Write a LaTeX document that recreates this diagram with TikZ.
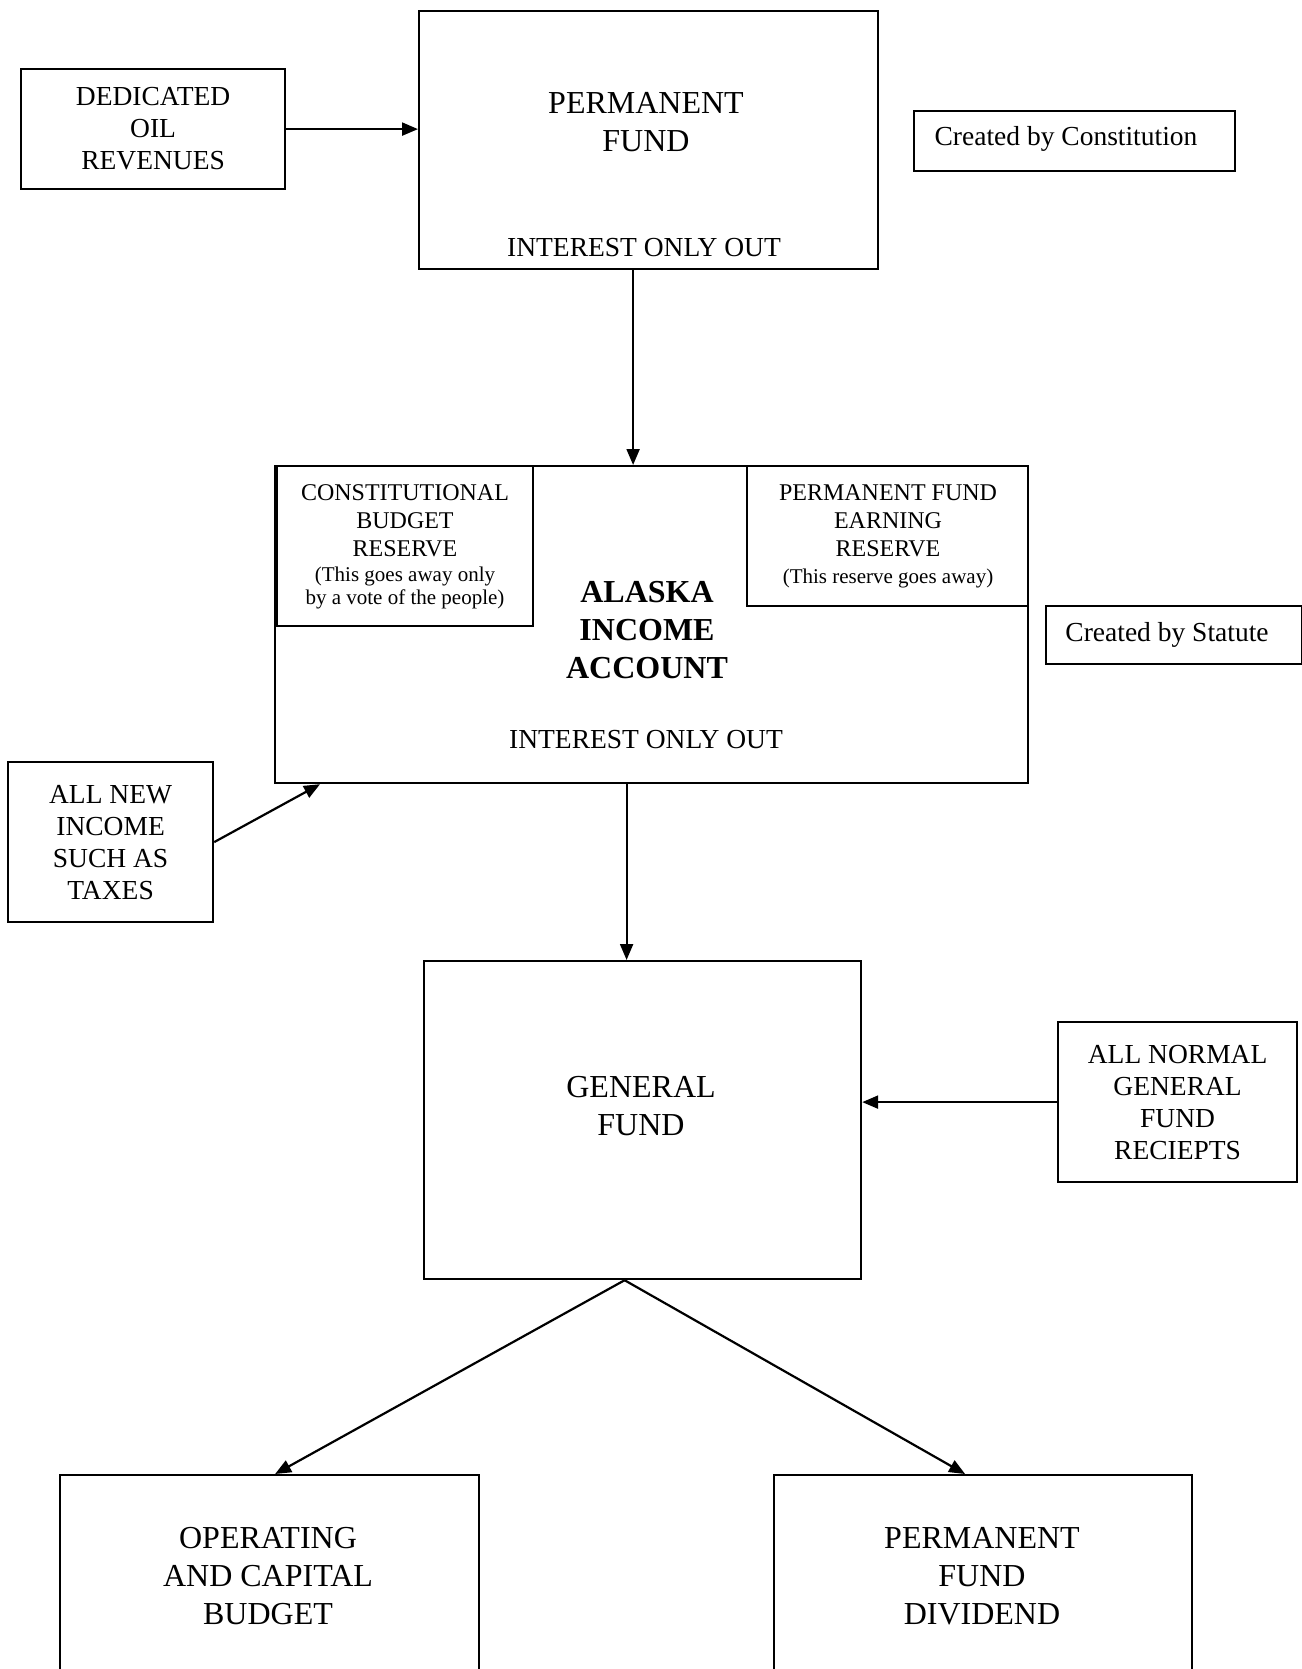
\documentclass[tikz,border=0pt]{standalone}
\usepackage{fontspec}
\setmainfont{Liberation Serif}
\usetikzlibrary{arrows.meta,calc}
\begin{document}
\begin{tikzpicture}[x=1pt,y=-1pt,
  box/.style={draw, line width=2.2pt, inner sep=0pt, anchor=north west, align=center},
  txt/.style={inner sep=0pt, align=center},
  big/.style={font=\fontsize{32}{38}\selectfont},
  bigb/.style={font=\fontsize{32}{38}\selectfont\bfseries},
  med/.style={font=\fontsize{27.5}{32}\selectfont},
  sml/.style={font=\fontsize{24}{28}\selectfont},
  tny/.style={font=\fontsize{21}{23}\selectfont},
  arr/.style={line width=2.2pt, -{Triangle[length=16pt,width=13pt]}}
]
\useasboundingbox (0,0) rectangle (1301,1669);

% top row
\node[box, med, minimum width=264, minimum height=120] (ded) at (20,68) {DEDICATED\\OIL\\REVENUES};
\node[box, minimum width=459, minimum height=258] (pf) at (418,10) {};
\node[txt, big] (pft) at (646,122) {PERMANENT\\FUND};
\node[txt, med] (pfi) at (644,248) {INTEREST ONLY OUT};
\node[box, minimum width=321, minimum height=60] (cbc) at (913,110) {};
\node[txt, med] (cbct) at (1066,139) {Created by Constitution};

% Alaska income account
\node[box, minimum width=753, minimum height=317] (aia) at (274,465) {};
\node[box, minimum width=256, minimum height=160] (cbr) at (276,465) {};
\node[txt, sml] (cbrt) at (405,521) {CONSTITUTIONAL\\BUDGET\\RESERVE};
\node[txt, tny] (cbrp) at (405,588) {(This goes away only\\by a vote of the people)};
\node[box, minimum width=281, minimum height=140] (pfer) at (746,465) {};
\node[txt, sml] (pfert) at (888,521) {PERMANENT FUND\\EARNING\\RESERVE};
\node[txt, tny] (pferp) at (888,578) {(This reserve goes away)};
\node[txt, bigb] (aiat) at (647,630) {ALASKA\\INCOME\\ACCOUNT};
\node[txt, med] (aiai) at (646,740) {INTEREST ONLY OUT};
\node[box, minimum width=256, minimum height=58] (cbs) at (1045,605) {};
\node[txt, med] (cbst) at (1167,635) {Created by Statute};

\node[box, med, minimum width=205, minimum height=160] (anew) at (7,761) {ALL NEW\\INCOME\\SUCH AS\\TAXES};

% general fund
\node[box, minimum width=437, minimum height=318] (gf) at (423,960) {};
\node[txt, big] (gft) at (641,1106) {GENERAL\\FUND};
\node[box, med, minimum width=239, minimum height=160] (anorm) at (1057,1021) {ALL NORMAL\\GENERAL\\FUND\\RECIEPTS};

% bottom boxes (cut by page edge)
\node[box, minimum width=419, minimum height=240] (oac) at (59,1474) {};
\node[txt, big] (oact) at (268,1576) {OPERATING\\AND CAPITAL\\BUDGET};
\node[box, minimum width=418, minimum height=240] (pfd) at (773,1474) {};
\node[txt, big] (pfdt) at (982,1576) {PERMANENT\\FUND\\DIVIDEND};

% connectors
\draw[arr] (ded.east) -- (ded.east -| pf.west);
\draw[arr] ([xshift=-15.5pt]pf.south) -- ([xshift=-15.5pt]pf.south |- aia.north);
\draw[arr] (anew.east) -- ([xshift=46pt]aia.south west);
\draw[arr] ([xshift=-16pt]gf.north |- aia.south) -- ([xshift=-16pt]gf.north);
\draw[arr] (anorm.west) -- (anorm.west -| gf.east);
\draw[arr] ([xshift=-18pt]gf.south) -- ([xshift=5.5pt]oac.north);
\draw[arr] ([xshift=-18pt]gf.south) -- ([xshift=-18pt]pfd.north);
\end{tikzpicture}
\end{document}
